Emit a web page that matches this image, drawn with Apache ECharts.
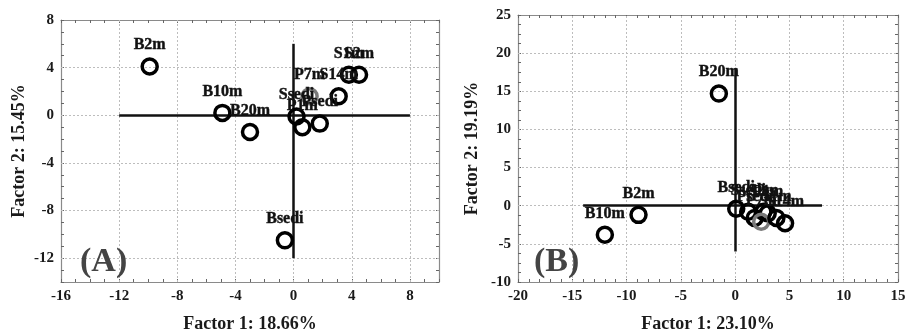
<!DOCTYPE html>
<html>
<head>
<meta charset="utf-8">
<script src="https://cdn.jsdelivr.net/npm/echarts@6/dist/echarts.min.js"></script>
<style>
html, body { margin: 0; padding: 0; background: #fff; }
#main { width: 906px; height: 331px; }
</style>
</head>
<body>
<div id="main"></div>
<script>
// ---- panel A ----
var namesA = ["B2m", "B10m", "B20m", "Bsedi", "Ssedi", "P1m", "Psedi", "P7m", "S14m", "S1m", "S2m"];
var xA = [-9.9, -4.9, -3.0, -0.6, 0.2, 0.6, 1.8, 1.1, 3.1, 3.8, 4.5];
var yA = [4.1, 0.2, -1.4, -10.5, -0.1, -1.0, -0.7, 1.6, 1.6, 3.4, 3.4];
var xTicksA = [-16, -12, -8, -4, 0, 4, 8];
var yTicksA = [-12, -8, -4, 0, 4, 8];
var xRangeA = [-16, 10], yRangeA = [-14, 8];
var hLineA = [-12, 8], vLineA = [-12, 6];

// ---- panel B ----
var namesB = ["B20m", "B2m", "B10m", "Bsedi", "Ssedi", "Psedi", "S2m", "P1m", "P7m", "S1m", "S14m"];
var xB = [-1.5, -8.9, -12.0, 0.1, 1.2, 1.8, 2.6, 3.0, 2.4, 3.8, 4.6];
var yB = [14.7, -1.2, -3.8, -0.4, -0.8, -1.6, -0.8, -1.0, -2.1, -1.6, -2.3];
var xTicksB = [-20, -15, -10, -5, 0, 5, 10, 15];
var yTicksB = [-10, -5, 0, 5, 10, 15, 20, 25];
var xRangeB = [-20, 15], yRangeB = [-10, 25];
var hLineB = [-14, 8], vLineB = [-6, 18];

var grayName = "P7m";
var serif = "Liberation Serif";

function hasTick(list, v) {
    for (var i = 0; i < list.length; i++) if (Math.abs(list[i] - v) < 1e-6) return true;
    return false;
}

function axis(gi, pos, range, step, ticks, name, gap) {
    var main = (pos == "bottom" || pos == "left");
    return {
        type: "value", gridIndex: gi, position: pos,
        min: range[0], max: range[1], interval: step,
        name: main ? name : "", nameLocation: "middle", nameGap: gap,
        nameTextStyle: {fontFamily: serif, fontWeight: "bold", fontSize: 18, color: "#1a1a1a"},
        axisLine: {show: true, onZero: false, lineStyle: {color: "#8a8a8a", width: 1.2}},
        axisTick: {show: true, inside: true, length: 3, lineStyle: {color: "#666"}},
        axisLabel: {
            show: main, margin: 7, fontFamily: serif, fontWeight: "bold", fontSize: 15, color: "#1a1a1a",
            formatter: function (v) { return hasTick(ticks, v) ? String(Math.round(v)) : ""; }
        },
        splitLine: {show: false}
    };
}

function points(names, xs, ys) {
    return names.map(function (n, i) {
        var d = {name: n, value: [xs[i], ys[i]]};
        if (n == grayName) d.itemStyle = {borderColor: "#7a7a7a"};
        return d;
    });
}

function gridLines(xt, yt) {
    var out = [];
    xt.forEach(function (v) { out.push({xAxis: v}); });
    yt.forEach(function (v) { out.push({yAxis: v}); });
    return out;
}

function panelSeries(ai, names, xs, ys, xt, yt, hl, vl) {
    return [{
        type: "scatter", xAxisIndex: ai, yAxisIndex: ai, data: [], silent: true,
        markLine: {
            silent: true, symbol: "none", label: {show: false}, animation: false,
            lineStyle: {color: "#bdbdbd", type: [2, 2], width: 1},
            data: gridLines(xt, yt)
        }
    }, {
        type: "scatter", xAxisIndex: ai, yAxisIndex: ai, z: 5,
        data: points(names, xs, ys),
        symbol: "circle", symbolSize: 15,
        itemStyle: {color: "rgba(0,0,0,0)", borderColor: "#000", borderWidth: 3.5, opacity: 1},
        label: {
            show: true, position: "top", distance: 4,
            fontFamily: serif, fontWeight: "bold", fontSize: 16, color: "#111",
            textBorderColor: "#111", textBorderWidth: 0.4,
            formatter: function (p) { return p.name; }
        },
        markLine: {
            silent: true, symbol: "none", label: {show: false}, animation: false,
            lineStyle: {color: "#111", type: "solid", width: 2.5},
            data: [
                [{coord: [hl[0], 0]}, {coord: [hl[1], 0]}],
                [{coord: [0, vl[0]]}, {coord: [0, vl[1]]}]
            ]
        }
    }];
}

var chart = echarts.init(document.getElementById("main"), null, {renderer: "canvas"});
chart.setOption({
    animation: false,
    backgroundColor: "#fff",
    title: [
        {text: "(A)", left: 75, top: 240, textStyle: {fontFamily: serif, fontWeight: "bold", fontSize: 34, color: "#444"}},
        {text: "(B)", left: 529, top: 240, textStyle: {fontFamily: serif, fontWeight: "bold", fontSize: 34, color: "#444"}}
    ],
    grid: [
        {left: 61, top: 20, width: 378, height: 262, outerBoundsMode: "none", containLabel: false},
        {left: 518, top: 15, width: 380, height: 267, outerBoundsMode: "none", containLabel: false}
    ],
    xAxis: [
        axis(0, "bottom", xRangeA, 1, xTicksA, "Factor 1: 18.66%", 33),
        axis(1, "bottom", xRangeB, 1, xTicksB, "Factor 1: 23.10%", 33),
        axis(0, "top", xRangeA, 1, xTicksA, "", 0),
        axis(1, "top", xRangeB, 1, xTicksB, "", 0)
    ],
    yAxis: [
        axis(0, "left", yRangeA, 1, yTicksA, "Factor 2: 15.45%", 33),
        axis(1, "left", yRangeB, 1.25, yTicksB, "Factor 2: 19.19%", 37),
        axis(0, "right", yRangeA, 1, yTicksA, "", 0),
        axis(1, "right", yRangeB, 1.25, yTicksB, "", 0)
    ],
    series: [].concat(
        panelSeries(0, namesA, xA, yA, [-12, -8, -4, 0, 4, 8], [-12, -8, -4, 0, 4], hLineA, vLineA),
        panelSeries(1, namesB, xB, yB, [-15, -10, -5, 0, 5, 10], [-5, 0, 5, 10, 15, 20], hLineB, vLineB)
    )
});
</script>
</body>
</html>
